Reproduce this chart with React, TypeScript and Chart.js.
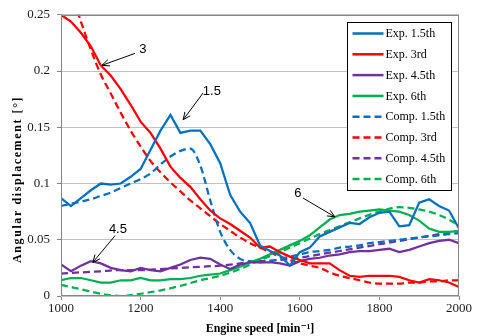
import { useEffect, useRef } from "react";
import { Chart, registerables } from "chart.js";

Chart.register(...registerables);

// ---- data ----
const rpmFine = [
  1000, 1025, 1050, 1075, 1100, 1125, 1150, 1175, 1200, 1225, 1250, 1275, 1300, 1325,
  1350, 1375, 1400, 1425, 1450, 1475, 1500, 1525, 1550, 1575, 1600, 1625, 1650, 1675,
  1700, 1725, 1750, 1775, 1800, 1825, 1850, 1875, 1900, 1925, 1950, 1975, 2000,
];
const rpmCoarse = [
  1000, 1050, 1100, 1150, 1200, 1250, 1300, 1350, 1400, 1450, 1500, 1550, 1600, 1650,
  1700, 1750, 1800, 1850, 1900, 1950, 2000,
];

const exp15 = [
  0.087, 0.08, 0.087, 0.094, 0.1, 0.099, 0.1, 0.106, 0.113, 0.13, 0.147, 0.161, 0.145, 0.147,
  0.147, 0.135, 0.118, 0.09, 0.075, 0.065, 0.045, 0.04, 0.036, 0.027, 0.039, 0.043, 0.053, 0.057,
  0.061, 0.065, 0.064, 0.07, 0.074, 0.075, 0.062, 0.063, 0.083, 0.086, 0.08, 0.076, 0.06,
];
const exp3 = [
  0.25, 0.244, 0.234, 0.222, 0.205, 0.196, 0.184, 0.17, 0.155, 0.145, 0.131, 0.115, 0.105, 0.097,
  0.086, 0.076, 0.069, 0.064, 0.058, 0.052, 0.043, 0.044, 0.039, 0.035, 0.032, 0.029, 0.029, 0.029,
  0.023, 0.018, 0.017, 0.018, 0.018, 0.018, 0.017, 0.014, 0.012, 0.015, 0.014, 0.012, 0.008,
];
const exp45 = [
  0.028, 0.022, 0.027, 0.031, 0.029, 0.025, 0.023, 0.022, 0.025, 0.023, 0.022, 0.025, 0.028, 0.032,
  0.034, 0.033, 0.028, 0.024, 0.028, 0.03, 0.03, 0.03, 0.029, 0.027, 0.031, 0.033, 0.034, 0.036,
  0.037, 0.039, 0.04, 0.04, 0.041, 0.042, 0.039, 0.041, 0.044, 0.047, 0.049, 0.05, 0.047,
];
const exp6 = [
  0.014, 0.016, 0.016, 0.014, 0.012, 0.012, 0.014, 0.014, 0.016, 0.014, 0.014, 0.015, 0.015, 0.016,
  0.018, 0.019, 0.02, 0.023, 0.026, 0.03, 0.033, 0.037, 0.041, 0.045, 0.049, 0.054, 0.061, 0.068,
  0.072, 0.073, 0.075, 0.076, 0.077, 0.076, 0.075, 0.072, 0.067, 0.06, 0.057, 0.057, 0.058,
];
const comp15 = [
  0.08, 0.082, 0.084, 0.086, 0.089, 0.092, 0.096, 0.1, 0.104, 0.109, 0.117, 0.124, 0.129, 0.131,
  0.116, 0.085, 0.057, 0.041, 0.033, 0.031, 0.03, 0.031, 0.033, 0.035, 0.037, 0.039, 0.04, 0.041,
  0.043, 0.044, 0.045, 0.047, 0.048, 0.049, 0.05, 0.051, 0.052, 0.053, 0.054, 0.055, 0.056,
];
const comp3 = [
  0.3, 0.272, 0.244, 0.219, 0.197, 0.18, 0.163, 0.147, 0.133, 0.12, 0.11, 0.101, 0.093, 0.085,
  0.078, 0.071, 0.064, 0.058, 0.052, 0.047, 0.043, 0.039, 0.035, 0.032, 0.029, 0.027, 0.025, 0.021,
  0.018, 0.016, 0.014, 0.012, 0.011, 0.011, 0.011, 0.012, 0.012, 0.013, 0.013, 0.014, 0.014,
];
const comp45 = [
  0.02, 0.021, 0.022, 0.023, 0.023, 0.024, 0.025, 0.026, 0.027, 0.029, 0.031, 0.032, 0.034, 0.037,
  0.04, 0.043, 0.046, 0.049, 0.052, 0.055, 0.058,
];
const comp6 = [
  0.01, 0.006, 0.002, 0.0, 0.002, 0.005, 0.009, 0.014, 0.018, 0.024, 0.032, 0.039, 0.047, 0.055,
  0.062, 0.069, 0.075, 0.079, 0.077, 0.072, 0.063,
];

const seriesLabels = [
  "Exp. 1.5th", "Exp. 3rd", "Exp. 4.5th", "Exp. 6th",
  "Comp. 1.5th", "Comp. 3rd", "Comp. 4.5th", "Comp. 6th",
];
const xTicks = [1000, 1200, 1400, 1600, 1800, 2000];
const xTickLabels = ["1000", "1200", "1400", "1600", "1800", "2000"];
const yTicks = [0, 0.05, 0.1, 0.15, 0.2, 0.25];
const yTickLabels = ["0", "0.05", "0.1", "0.15", "0.2", "0.25"];
const xTitle = "Engine speed [min\u207B\u00B9]";
const yTitle = "Angular displacement [°]";

// annotation labels with arrows, in data coordinates [rpm, value]
const annotations = [
  { text: "3", label: [1206, 0.219], tail: [1186, 0.2157], tip: [1103, 0.2051] },
  { text: "1.5", label: [1379, 0.1822], tail: [1357, 0.1805], tip: [1307, 0.1567] },
  { text: "4.5", label: [1143, 0.059], tail: [1136, 0.0537], tip: [1080, 0.0299] },
  { text: "6", label: [1595, 0.0915], tail: [1608, 0.0871], tip: [1688, 0.0704] },
];

const BLUE = "#0070C0";
const RED = "#FF0000";
const PURPLE = "#7030A0";
const GREEN = "#00B050";
const DASH = [7, 4];
const SERIF = "'Liberation Serif', 'DejaVu Serif', serif";
const SANS = "'Liberation Sans', 'DejaVu Sans', sans-serif";

function pts(xs: number[], ys: number[]) {
  return xs.map((x, i) => ({ x, y: ys[i] }));
}

const overlayPlugin = {
  id: "overlay",
  afterDatasetsDraw(chart: any) {
    const { ctx, chartArea: a, scales } = chart;
    const sx = scales.x;
    const sy = scales.y;
    ctx.save();
    // frame
    ctx.strokeStyle = "#868686";
    ctx.lineWidth = 1;
    ctx.strokeRect(Math.round(a.left) + 0.5, Math.round(a.top) + 0.5,
      Math.round(a.right - a.left) - 1, Math.round(a.bottom - a.top) - 1);

    // annotations
    ctx.strokeStyle = "#000";
    ctx.fillStyle = "#000";
    ctx.lineWidth = 1;
    ctx.font = `13px ${SANS}`;
    ctx.textAlign = "center";
    ctx.textBaseline = "middle";
    annotations.forEach((an) => {
      const tx = sx.getPixelForValue(an.tail[0]);
      const ty = sy.getPixelForValue(an.tail[1]);
      const px = sx.getPixelForValue(an.tip[0]);
      const py = sy.getPixelForValue(an.tip[1]);
      ctx.beginPath();
      ctx.moveTo(tx, ty);
      ctx.lineTo(px, py);
      const ang = Math.atan2(ty - py, tx - px);
      const L = 8;
      const s = 0.42;
      ctx.moveTo(px + L * Math.cos(ang + s), py + L * Math.sin(ang + s));
      ctx.lineTo(px, py);
      ctx.lineTo(px + L * Math.cos(ang - s), py + L * Math.sin(ang - s));
      ctx.stroke();
      ctx.fillText(an.text, sx.getPixelForValue(an.label[0]), sy.getPixelForValue(an.label[1]));
    });

    // legend box
    const bw = 104;
    const bh = 168;
    const bx = Math.round(a.right) - 112 + 0.5;
    const by = Math.round(a.top) + 7 + 0.5;
    ctx.fillStyle = "#fff";
    ctx.fillRect(bx, by, bw, bh);
    ctx.strokeStyle = "#000";
    ctx.lineWidth = 1;
    ctx.strokeRect(bx, by, bw, bh);
    ctx.font = `12px ${SERIF}`;
    ctx.textAlign = "left";
    ctx.textBaseline = "middle";
    chart.data.datasets.forEach((ds: any, i: number) => {
      const y = by + 11 + i * 20.8;
      ctx.beginPath();
      ctx.strokeStyle = ds.borderColor;
      ctx.lineWidth = 2.5;
      ctx.setLineDash(ds.borderDash || []);
      ctx.moveTo(bx + 5, y);
      ctx.lineTo(bx + 36, y);
      ctx.stroke();
      ctx.setLineDash([]);
      ctx.fillStyle = "#000";
      ctx.fillText(ds.label, bx + 38, y + 0.5);
    });
    ctx.restore();
  },
  afterDraw(chart: any) {
    const { ctx, chartArea: a } = chart;
    ctx.save();
    ctx.translate(18, (a.top + a.bottom) / 2 + 24);
    ctx.rotate(-Math.PI / 2);
    ctx.font = `bold 12px ${SERIF}`;
    (ctx as any).letterSpacing = "1.6px";
    ctx.fillStyle = "#000";
    ctx.textAlign = "center";
    ctx.textBaseline = "middle";
    ctx.fillText(yTitle, 0, 0);
    ctx.restore();
  },
};

export default function App() {
  const ref = useRef<HTMLCanvasElement | null>(null);

  useEffect(() => {
    if (!ref.current) return;
    const mk = (label: string, xs: number[], ys: number[], color: string, dashed: boolean) => ({
      label,
      data: pts(xs, ys),
      borderColor: color,
      backgroundColor: color,
      borderWidth: 2.25,
      borderDash: dashed ? DASH : [],
      pointRadius: 0,
      fill: false,
      tension: dashed ? 0.4 : 0,
      cubicInterpolationMode: dashed ? "monotone" : "default",
    });
    const chart = new Chart(ref.current, {
      type: "line",
      data: {
        datasets: [
          mk(seriesLabels[0], rpmFine, exp15, BLUE, false),
          mk(seriesLabels[1], rpmFine, exp3, RED, false),
          mk(seriesLabels[2], rpmFine, exp45, PURPLE, false),
          mk(seriesLabels[3], rpmFine, exp6, GREEN, false),
          mk(seriesLabels[4], rpmFine, comp15, BLUE, true),
          mk(seriesLabels[5], rpmFine, comp3, RED, true),
          mk(seriesLabels[6], rpmCoarse, comp45, PURPLE, true),
          mk(seriesLabels[7], rpmCoarse, comp6, GREEN, true),
        ] as any,
      },
      options: {
        animation: false,
        responsive: false,
        devicePixelRatio: 1,
        layout: { padding: { top: 12, right: 20, left: 0, bottom: 0 } },
        plugins: { legend: { display: false }, tooltip: { enabled: false } },
        font: { family: SERIF } as any,
        scales: {
          x: {
            type: "linear",
            min: 1000,
            max: 2000,
            afterBuildTicks: (s: any) => {
              s.ticks = xTicks.map((v) => ({ value: v }));
            },
            afterFit: (s: any) => {
              s.height = 40;
            },
            ticks: {
              color: "#1a1a1a",
              font: { family: SERIF, size: 13 },
              padding: 1,
              maxRotation: 0,
              autoSkip: false,
              callback: (_v: any, i: number) => xTickLabels[i],
            },
            grid: {
              drawOnChartArea: false,
              drawTicks: true,
              tickLength: 4,
              color: "#868686",
            },
            border: { display: false },
            title: {
              display: true,
              text: xTitle,
              color: "#000",
              font: { family: SERIF, size: 12, weight: "bold" },
              padding: { top: 0, bottom: 0 },
            },
          },
          y: {
            type: "linear",
            min: 0,
            max: 0.25,
            afterBuildTicks: (s: any) => {
              s.ticks = yTicks.map((v) => ({ value: v }));
            },
            afterFit: (s: any) => {
              s.width = 61;
            },
            ticks: {
              color: "#1a1a1a",
              font: { family: SERIF, size: 13 },
              padding: 7,
              callback: (_v: any, i: number) => yTickLabels[i],
            },
            grid: {
              color: "#c0c0c0",
              tickColor: "#868686",
              tickLength: 4,
              drawTicks: true,
            },
            border: { display: false },
          },
        },
      } as any,
      plugins: [overlayPlugin],
    });
    return () => chart.destroy();
  }, []);

  return (
    <div style={{ position: "fixed", left: 0, top: 0, width: 479, height: 336, background: "#fff" }}>
      <canvas ref={ref} width={479} height={336} />
    </div>
  );
}
